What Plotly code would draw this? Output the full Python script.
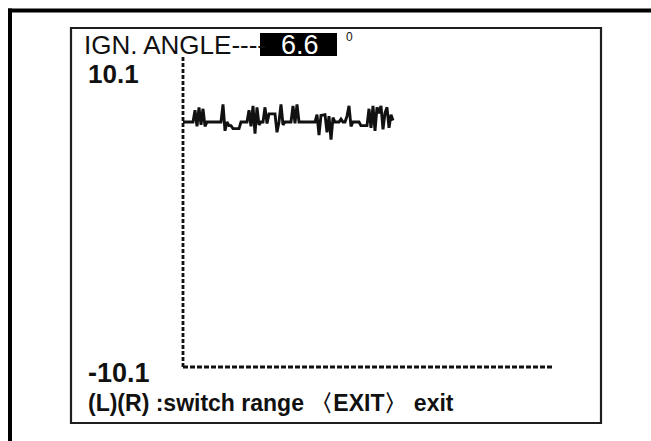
import plotly.graph_objects as go

# Scan-tool trend screen: ignition angle trace over the sample window
y_max = 10.1
y_min = -10.1
reading = 6.6
window = 185  # samples shown across the horizontal axis

signal = [
    6.6, 6.6, 6.6, 6.6, 6.6, 6.6,            # 0-5
    7.4, 6.3, 7.6, 6.4, 7.5, 6.3,            # 6-11
    6.6, 6.6, 6.6, 6.6, 6.6, 6.6, 6.6, 6.6,  # 12-19
    7.8, 6.0, 6.6,                           # 20-22
    6.35, 6.35, 6.15, 6.15, 6.15, 6.15,      # 23-28
    6.6, 6.6, 6.6, 6.6,                      # 29-32
    7.4, 6.3, 7.7, 5.8, 7.6, 6.4,            # 33-38
    6.6, 6.6,                                # 39-40
    7.6, 6.5,                                # 41-42
    7.15, 7.15, 7.15, 7.15,                  # 43-46
    5.9, 6.6,                                # 47-48
    7.8, 6.4,                                # 49-50
    6.6, 6.6, 6.6, 6.6,                      # 51-54
    7.7, 6.5, 7.8, 6.6,                      # 55-58
    6.6, 6.6, 6.6, 6.6, 6.6, 6.6, 6.6, 6.6,  # 59-66
    7.1, 5.7, 7.05, 7.05, 7.1, 5.9, 7.0, 5.4, 6.9,  # 67-75
    6.6, 6.6, 6.6, 6.8, 6.6, 6.6,            # 76-81
    7.0, 7.7, 6.3, 6.6,                      # 82-85
    6.6, 6.6, 6.6,                           # 86-88
    6.35, 6.35, 6.35, 6.35,                  # 89-92
    7.5, 6.2, 7.7, 6.0, 7.6, 7.2, 7.7, 6.1, 7.2, 7.6, 6.2, 7.1, 6.7,  # 93-105
]
samples = list(range(len(signal)))

title_text = "IGN. ANGLE----"
unit_text = "0"
footer_text = "(L)(R) :switch range 〈EXIT〉 exit"

W, H = 651, 441


def px(x):
    return x / W


def py(y):
    return 1 - y / H


# scale: 2 px per sample horizontally, ~14.67 px per degree vertically
x_pad = 2          # samples of headroom left of the axis so its stroke is not clipped
y_unit_px = 14.67
y_pad = 4 / y_unit_px
y_top = 11.03

x_left_px = 183 - 2 * x_pad
y_bottom_px = 367 + 4

fig = go.Figure()
fig.add_trace(go.Scatter(
    x=samples, y=signal, mode="lines",
    line=dict(color="#111111", width=2.9, shape="linear"),
    hoverinfo="skip", showlegend=False,
))

shapes = [
    # outer frame (left and top edges)
    dict(type="line", xref="paper", yref="paper", x0=px(10), x1=px(10), y0=py(8.5), y1=py(460),
         line=dict(color="black", width=4)),
    dict(type="line", xref="paper", yref="paper", x0=px(8), x1=px(670), y0=py(10.5), y1=py(10.5),
         line=dict(color="black", width=4)),
    # inner screen border
    dict(type="rect", xref="paper", yref="paper", x0=px(71), x1=px(601), y0=py(423), y1=py(28),
         line=dict(color="#1e1e1e", width=2.2), fillcolor="rgba(0,0,0,0)"),
    # dashed axes
    dict(type="line", xref="x", yref="y", x0=0, x1=0, y0=y_min, y1=y_top,
         line=dict(color="#111111", width=2.8, dash="4px,2px")),
    dict(type="line", xref="x", yref="y", x0=0, x1=window, y0=y_min, y1=y_min,
         line=dict(color="#111111", width=2.8, dash="5px,2px")),
    # highlighted reading box
    dict(type="rect", xref="paper", yref="paper", x0=px(260), x1=px(337), y0=py(56), y1=py(33),
         line=dict(width=0), fillcolor="black"),
]

ann = [
    dict(text=title_text, x=px(82), y=py(45), xanchor="left", yanchor="middle",
         font=dict(family="Liberation Sans, Arial", size=26, color="#111111")),
    dict(text=f"{reading}", x=px(300), y=py(45), xanchor="center", yanchor="middle",
         font=dict(family="Liberation Sans, Arial", size=27, color="white")),
    dict(text=unit_text, x=px(344), y=py(37), xanchor="left", yanchor="middle",
         font=dict(family="Liberation Sans, Arial", size=12, color="#111111")),
    dict(text=f"<b>{y_max}</b>", x=px(86), y=py(74), xanchor="left", yanchor="middle",
         font=dict(family="Liberation Sans, Arial", size=26, color="#111111")),
    dict(text=f"<b>{y_min}</b>", x=px(86), y=py(373), xanchor="left", yanchor="middle",
         font=dict(family="Liberation Sans, Arial", size=27, color="#111111")),
    dict(text=f"<b>{footer_text}</b>", x=px(86), y=py(403), xanchor="left", yanchor="middle",
         font=dict(family="Liberation Sans, Arial", size=23, color="#111111")),
]
for a in ann:
    a.update(xref="paper", yref="paper", showarrow=False)

fig.update_layout(
    width=W, height=H,
    margin=dict(l=0, r=0, t=0, b=0),
    paper_bgcolor="white", plot_bgcolor="rgba(0,0,0,0)",
    shapes=shapes, annotations=ann,
    xaxis=dict(domain=[px(x_left_px), px(555)], range=[-x_pad, window + 1],
               visible=False, fixedrange=True),
    yaxis=dict(domain=[py(y_bottom_px), py(57)], range=[y_min - y_pad, y_top],
               visible=False, fixedrange=True),
)

fig.write_html("out.html", config=dict(displayModeBar=False))
